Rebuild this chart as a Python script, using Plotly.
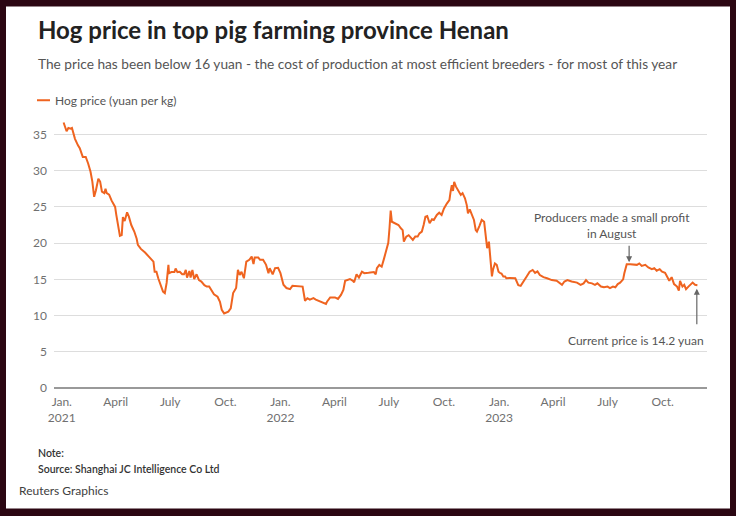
import plotly.graph_objects as go

dates = [
"2021-01-04","2021-01-09","2021-01-12","2021-01-16","2021-01-18","2021-01-23","2021-01-28","2021-01-31",
"2021-02-05","2021-02-10","2021-02-14","2021-02-18","2021-02-21","2021-02-24","2021-02-27","2021-03-03",
"2021-03-06","2021-03-09","2021-03-13","2021-03-15","2021-03-17","2021-03-21","2021-03-25","2021-03-31",
"2021-04-02","2021-04-05","2021-04-08","2021-04-11","2021-04-13","2021-04-16","2021-04-20","2021-04-23",
"2021-04-27","2021-05-02","2021-05-06","2021-05-08","2021-05-13","2021-05-20","2021-05-25","2021-05-31",
"2021-06-03","2021-06-05","2021-06-08","2021-06-11","2021-06-15","2021-06-19","2021-06-22","2021-06-25",
"2021-06-28","2021-06-29","2021-07-03","2021-07-08","2021-07-10","2021-07-13","2021-07-17","2021-07-21",
"2021-07-24","2021-07-27","2021-07-29","2021-08-02","2021-08-04","2021-08-07","2021-08-10","2021-08-14",
"2021-08-18","2021-08-22","2021-08-27","2021-08-31","2021-09-04","2021-09-08","2021-09-12","2021-09-18",
"2021-09-22","2021-09-25","2021-09-29","2021-10-06","2021-10-10","2021-10-14","2021-10-19","2021-10-22",
"2021-10-25","2021-10-28","2021-11-01","2021-11-05","2021-11-10","2021-11-14","2021-11-17","2021-11-19",
"2021-11-25","2021-11-28","2021-12-03","2021-12-08","2021-12-12","2021-12-14","2021-12-19","2021-12-23",
"2021-12-28","2022-01-01","2022-01-06","2022-01-11","2022-01-17","2022-01-21","2022-02-03","2022-02-07",
"2022-02-11","2022-02-15","2022-02-19","2022-02-25","2022-03-01","2022-03-05","2022-03-09","2022-03-13",
"2022-03-18","2022-03-20","2022-03-25","2022-04-02","2022-04-07","2022-04-12","2022-04-16","2022-04-19",
"2022-04-23","2022-04-27","2022-05-02","2022-05-04","2022-05-08","2022-05-12","2022-05-17","2022-05-21",
"2022-05-28","2022-06-02","2022-06-06","2022-06-09","2022-06-11","2022-06-15","2022-06-19","2022-06-23",
"2022-06-26","2022-06-30","2022-07-02","2022-07-04","2022-07-06","2022-07-09","2022-07-13","2022-07-17",
"2022-07-21","2022-07-24","2022-07-26","2022-07-30","2022-08-03","2022-08-07","2022-08-10","2022-08-14",
"2022-08-18","2022-08-21","2022-08-25","2022-08-28","2022-08-31","2022-09-03","2022-09-07","2022-09-11",
"2022-09-14","2022-09-19","2022-09-23","2022-09-27","2022-10-01","2022-10-06","2022-10-10","2022-10-12",
"2022-10-14","2022-10-16","2022-10-18","2022-10-21","2022-10-25","2022-10-29","2022-11-01","2022-11-05",
"2022-11-08","2022-11-10","2022-11-13","2022-11-16","2022-11-20","2022-11-23","2022-11-25","2022-11-29",
"2022-12-03","2022-12-07","2022-12-10","2022-12-12","2022-12-15","2022-12-17","2022-12-20","2022-12-22",
"2022-12-25","2022-12-28","2022-12-31","2023-01-03","2023-01-05","2023-01-08","2023-01-11","2023-01-13",
"2023-01-19","2023-01-28","2023-02-02","2023-02-06","2023-02-10","2023-02-16","2023-02-21","2023-02-26",
"2023-03-02","2023-03-06","2023-03-10","2023-03-16","2023-03-22","2023-03-30","2023-04-07","2023-04-16",
"2023-04-20","2023-04-25","2023-05-02","2023-05-11","2023-05-17","2023-05-22","2023-05-26","2023-05-30",
"2023-06-05","2023-06-10","2023-06-14","2023-06-20","2023-06-25","2023-07-01","2023-07-05","2023-07-10",
"2023-07-14","2023-07-18","2023-07-22","2023-07-27","2023-07-29","2023-08-02","2023-08-08","2023-08-13",
"2023-08-19","2023-08-23","2023-08-27","2023-09-02","2023-09-07","2023-09-13","2023-09-17","2023-09-21",
"2023-09-26","2023-09-30","2023-10-05","2023-10-09","2023-10-12","2023-10-16","2023-10-20","2023-10-25",
"2023-10-28","2023-10-30","2023-11-03","2023-11-06","2023-11-09","2023-11-13","2023-11-17","2023-11-20",
"2023-11-24","2023-11-28",
]

prices = [
36.65,35.45,35.9,35.8,35.9,34.4,33.5,33.1,
31.9,31.9,31.0,29.85,28.5,26.4,27.3,28.9,
28.5,27.1,26.9,27.5,26.9,26.7,25.9,25.0,
23.9,22.5,21.0,21.1,23.6,23.05,24.25,23.65,
22.5,21.6,20.6,19.75,19.2,18.7,18.3,17.8,
17.45,16.05,16.05,15.15,14.2,13.3,13.1,14.5,
17.0,15.85,16.0,16.0,16.5,16.0,16.05,15.7,
15.7,16.3,15.25,16.15,15.25,16.3,15.05,15.7,
14.9,14.7,14.2,14.0,14.0,13.55,12.95,12.6,
11.9,10.8,10.3,10.55,11.0,13.1,13.8,16.3,
15.6,16.05,15.15,17.45,17.7,18.15,17.1,18.0,
18.0,17.7,17.7,17.0,15.85,16.55,15.7,16.55,
16.6,15.85,14.25,13.8,13.65,14.1,14.1,14.0,
12.05,12.4,12.2,12.4,12.2,12.05,11.95,11.85,
11.6,11.95,12.5,12.5,12.3,12.85,13.55,14.8,
14.9,15.05,14.8,14.6,15.7,15.25,16.05,15.85,
15.9,16.0,16.0,15.7,16.55,17.0,16.75,17.9,
18.8,20.05,22.05,24.5,22.95,22.8,22.65,22.5,
22.05,21.8,20.2,20.9,21.1,20.65,20.45,20.9,
20.9,21.35,21.6,22.5,23.65,23.75,22.75,23.3,
23.2,23.9,24.2,23.9,24.8,25.5,25.95,27.1,
28.0,27.2,28.45,27.8,27.3,26.65,26.9,26.2,
25.25,24.1,24.65,23.9,23.2,21.8,21.6,22.35,
23.2,22.95,20.45,19.3,20.2,17.7,15.4,16.4,
17.2,17.0,16.05,15.85,15.8,15.4,15.4,15.15,
15.2,15.15,14.2,14.1,14.7,15.4,16.05,16.3,
15.9,16.1,15.6,15.3,15.15,14.9,14.8,14.25,
14.7,14.9,14.7,14.55,14.25,14.45,14.9,14.55,
14.45,14.25,14.45,14.0,13.9,14.0,13.8,14.0,
13.9,14.35,14.55,15.0,15.85,17.1,17.1,17.1,
17.0,17.2,16.85,17.0,16.65,16.4,16.55,16.2,
16.4,16.05,15.9,15.3,14.8,15.3,14.35,14.0,
13.45,14.8,14.0,14.25,13.65,14.0,14.25,14.55,
14.25,14.2,
]

tick_dates = ["2021-01-01","2021-04-01","2021-07-01","2021-10-01","2022-01-01","2022-04-01",
              "2022-07-01","2022-10-01","2023-01-01","2023-04-01","2023-07-01","2023-10-01"]
tick_labels = ["Jan.<br>2021","April","July","Oct.","Jan.<br>2022","April",
               "July","Oct.","Jan.<br>2023","April","July","Oct."]
y_ticks = [0, 5, 10, 15, 20, 25, 30, 35]

W, H = 736, 516
L, R, T, B = 54, 707, 119.8, 388.3
PW, PH = R - L, B - T

def px(x):
    return (x - L) / PW

def py(y):
    return (B - y) / PH

FONT = "Lato"
ORANGE = "#ef6420"

fig = go.Figure()
fig.add_trace(go.Scatter(x=dates, y=prices, mode="lines", name="Hog price (yuan per kg)",
                         line=dict(color=ORANGE, width=2), showlegend=False, hoverinfo="x+y"))

shapes = [
    dict(type="rect", xref="paper", yref="paper", x0=px(6), x1=px(730), y0=py(509), y1=py(6),
         fillcolor="white", line=dict(width=0), layer="below"),
    dict(type="line", xref="paper", yref="paper", x0=px(37), x1=px(50), y0=py(100), y1=py(100),
         line=dict(color=ORANGE, width=2)),
]

annotations = [
    dict(text="<b>Hog price in top pig farming province Henan</b>", xref="paper", yref="paper",
         x=px(36), y=py(29), xanchor="left", yanchor="middle", showarrow=False,
         font=dict(family=FONT, size=24, color="#222222")),
    dict(text="The price has been below 16 yuan - the cost of production at most efficient breeders - for most of this year",
         xref="paper", yref="paper", x=px(36), y=py(63), xanchor="left", yanchor="middle", showarrow=False,
         font=dict(family=FONT, size=13.7, color="#555555")),
    dict(text="Hog price (yuan per kg)", xref="paper", yref="paper", x=px(53), y=py(100),
         xanchor="left", yanchor="middle", showarrow=False, font=dict(family=FONT, size=12, color="#555555")),
    dict(text="Producers made a small profit<br>in August", xref="paper", yref="paper", x=px(612), y=py(225),
         xanchor="center", yanchor="middle", showarrow=False, align="center",
         font=dict(family=FONT, size=12, color="#555555")),
    dict(text="", x="2023-08-06", y=17.35, xref="x", yref="y", showarrow=True, ax=0, ay=-18,
         arrowhead=2, arrowsize=1, arrowwidth=1.2, arrowcolor="#666666"),
    dict(text="", x="2023-11-27", y=13.7, xref="x", yref="y", showarrow=True, ax=0, ay=37,
         arrowhead=2, arrowsize=1, arrowwidth=1.2, arrowcolor="#666666"),
    dict(text="Current price is 14.2 yuan", xref="paper", yref="paper", x=px(706), y=py(341),
         xanchor="right", yanchor="middle", showarrow=False, font=dict(family=FONT, size=12, color="#555555")),
    dict(text="Note:", xref="paper", yref="paper", x=px(36), y=py(453), xanchor="left", yanchor="middle",
         showarrow=False, font=dict(family=FONT, size=10.5, color="#333333", weight=600)),
    dict(text="Source: Shanghai JC Intelligence Co Ltd", xref="paper", yref="paper", x=px(36), y=py(469),
         xanchor="left", yanchor="middle", showarrow=False,
         font=dict(family=FONT, size=10.5, color="#333333", weight=600)),
    dict(text="Reuters Graphics", xref="paper", yref="paper", x=px(17), y=py(491), xanchor="left",
         yanchor="middle", showarrow=False, font=dict(family=FONT, size=12, color="#404040")),
]

fig.update_layout(
    width=W, height=H,
    margin=dict(l=L, r=W - R, t=T, b=H - B, pad=0),
    paper_bgcolor="#2b0612", plot_bgcolor="rgba(0,0,0,0)",
    font=dict(family=FONT, size=12, color="#666666"),
    shapes=shapes, annotations=annotations, showlegend=False,
    xaxis=dict(type="date", range=["2020-12-19", "2023-12-14"], tickvals=tick_dates, ticktext=tick_labels,
               showgrid=False, zeroline=False, showline=False, ticks="", ticklabelstandoff=5,
               tickfont=dict(family=FONT, size=12, color="#707070")),
    yaxis=dict(range=[0, 37], tickvals=y_ticks, showgrid=True, gridcolor="#dddddd", gridwidth=1,
               zeroline=True, zerolinecolor="#999999", zerolinewidth=1.5, ticks="", ticklabelstandoff=6,
               tickfont=dict(family=FONT, size=12, color="#707070")),
)

fig.write_html("out.html", config={"displayModeBar": False},
               post_script="document.body.style.margin='0';document.body.style.background='#2b0612';")
